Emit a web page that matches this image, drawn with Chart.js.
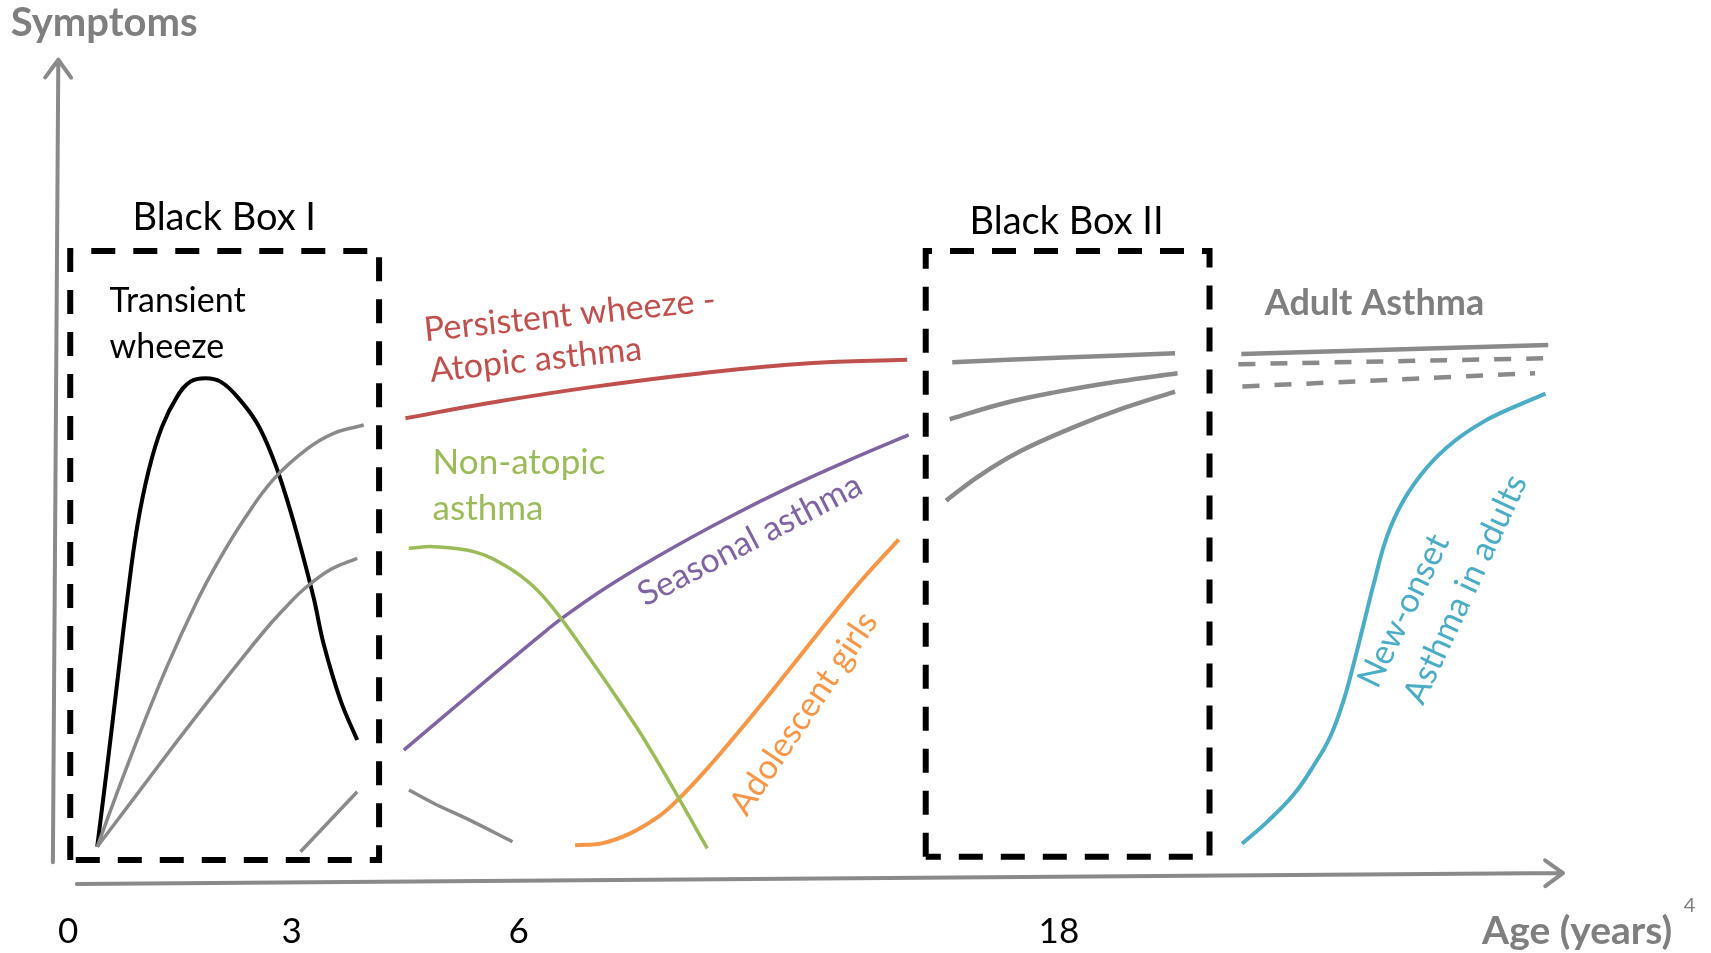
<!DOCTYPE html>
<html>
<head>
<meta charset="utf-8">
<title>Asthma phenotypes over age</title>
<script src="https://cdn.jsdelivr.net/npm/chart.js@4.4.1/dist/chart.umd.min.js"></script>
<style>
  html, body { margin: 0; padding: 0; background: #fff; }
  #wrap { width: 1711px; height: 953px; position: relative; }
</style>
</head>
<body>
<div id="wrap"><canvas id="chart"></canvas></div>
<script>
// Schematic units: x = position along the age axis (0-100), y = symptom level (0-100)

// age axis ticks
const tickPositions = [0.87, 15.7, 30.75, 66.57];
const tickLabels = ['0', '3', '6', '18'];

// Black Box I – transient wheeze and the curves arising at birth
const transientWheeze = [[2.8,4.53],[3.46,14.28],[4.12,24.44],[4.78,34.59],[5.45,43.52],[6.22,50.43],[7.1,55.71],[8.1,59.37],[8.98,61.19],[9.98,61.61],[10.97,61.19],[12.08,59.37],[13.4,56.12],[14.5,51.65],[15.39,46.78],[16.28,41.09],[17.16,34.8],[17.82,29.2],[18.93,22.4],[20.04,17.53]];
const earlyUpper = [[2.8,4.53],[4.12,11.13],[5.67,18.57],[7.44,26.54],[9.43,34.5],[10.75,39.05],[12.52,44.36],[14.5,49.31],[16.72,53.0],[18.48,54.9],[20.47,55.9]];
const earlyLower = [[2.8,4.53],[5.67,11.5],[8.98,19.5],[12.63,28.0],[14.29,31.7],[15.5,34.1],[16.5,35.9],[18.27,38.3],[20.04,39.67]];
const earlyLate = [[16.28,3.92],[20.04,11.23]];

// childhood phenotypes
const atopicAsthma = [[23.24,56.73],[28.68,58.56],[35.79,60.58],[42.89,62.22],[50.0,63.43],[56.51,63.84]];
const nonAtopicAsthma = [[23.46,40.89],[25.12,41.09],[27.77,40.48],[29.98,38.65],[31.75,36.21],[33.3,32.97],[35.06,28.5],[36.83,23.85],[38.6,19.0],[39.93,15.0],[41.26,10.8],[43.25,4.33]];
const seasonalAsthma = [[23.13,16.31],[25.56,20.08],[28.88,25.23],[32.19,30.29],[33.74,32.54],[36.61,36.18],[39.93,39.87],[44.35,44.34],[48.77,48.4],[53.19,52.05],[56.61,54.7]];
const remission = [[23.47,11.44],[25.14,9.81],[27.5,7.78],[30.34,5.15]];
const adolescentGirls = [[34.49,4.73],[36.26,4.95],[38.15,6.16],[40.06,8.26],[41.26,10.18],[43.25,14.06],[45.45,18.79],[47.66,23.76],[49.88,28.87],[51.64,32.92],[53.63,37.3],[55.95,41.94]];

// Black Box II
const transitionTop = [[59.5,63.56],[66.88,64.12],[74.27,64.65]];
const transitionMid = [[59.33,56.61],[62.93,58.56],[66.37,59.91],[70.49,61.2],[74.44,62.22]];
const transitionLow = [[59.09,46.7],[61.22,49.63],[63.97,52.67],[67.4,55.52],[70.84,57.95],[74.27,59.97]];

// adult asthma
const adultPersistent = [[78.67,64.57],[99.02,65.66]];
const adultDashedA = [[78.47,63.31],[99.08,64.04]];
const adultDashedB = [[78.74,60.59],[98.15,62.22]];
const newOnsetAdults = [[78.72,4.91],[80.38,7.57],[82.14,10.89],[83.47,14.43],[84.57,17.97],[85.46,22.41],[86.12,26.84],[86.79,31.72],[87.45,36.58],[88.33,42.34],[89.44,46.78],[90.99,50.77],[92.75,53.87],[94.74,56.32],[96.73,58.09],[98.84,59.72]];

// dashed "black boxes"
const blackBoxI = [[1.01,2.93],[1.01,77.1],[21.49,77.1],[21.49,2.93],[1.01,2.93]];
const blackBoxII = [[57.74,3.32],[57.74,77.1],[76.56,77.1],[76.56,3.32],[57.74,3.32]];

const GREY = '#8a8a8a';
const FONT = 'Lato, "Open Sans", sans-serif';

const pts = arr => arr.map(([x, y]) => ({ x, y }));

function curve(data, color, width, dash) {
  return {
    data: pts(data),
    showLine: true,
    borderColor: color,
    borderWidth: width,
    borderDash: dash || [],
    pointRadius: 0,
    tension: 0.4,
    fill: false
  };
}

function box(data) {
  return {
    data: pts(data),
    showLine: true,
    borderColor: '#000',
    borderWidth: 6,
    borderDash: [24, 18],
    borderCapStyle: 'butt',
    pointRadius: 0,
    tension: 0,
    fill: false
  };
}

// text annotations, anchored in chart units
const annotations = [
  { text: 'Symptoms', x: 3.26, y: 104.9, color: '#7f7f7f', size: 40, bold: true },
  { text: 'Age (years)', x: 100.94, y: -5.72, color: '#7f7f7f', size: 39, bold: true },
  { text: '4', x: 108.39, y: -2.66, color: '#7f7f7f', size: 20 },
  { text: 'Black Box I', x: 11.22, y: 81.12, color: '#000', size: 38 },
  { text: 'Black Box II', x: 67.08, y: 80.72, color: '#000', size: 38 },
  { text: 'Transient', x: 3.62, y: 71.01, color: '#000', size: 34, align: 'left' },
  { text: 'wheeze', x: 3.62, y: 65.43, color: '#000', size: 34, align: 'left' },
  { text: 'Persistent wheeze -', x: 34.13, y: 69.3, color: '#c0504d', size: 34, rotate: -6 },
  { text: 'Atopic asthma', x: 31.88, y: 63.84, color: '#c0504d', size: 34, rotate: -6 },
  { text: 'Non-atopic', x: 25.04, y: 51.33, color: '#9bbb59', size: 35, align: 'left' },
  { text: 'asthma', x: 25.04, y: 45.74, color: '#9bbb59', size: 35, align: 'left' },
  { text: 'Seasonal asthma', x: 46.09, y: 41.9, color: '#8064a2', size: 34, rotate: -27.5 },
  { text: 'Adolescent girls', x: 49.64, y: 20.78, color: '#f79646', size: 34, rotate: -56 },
  { text: 'Adult Asthma', x: 87.5, y: 70.74, color: '#7f7f7f', size: 36, bold: true },
  { text: 'New-onset', x: 89.44, y: 33.27, color: '#4bacc6', size: 34, rotate: -64 },
  { text: 'Asthma in adults', x: 93.53, y: 35.92, color: '#4bacc6', size: 34, rotate: -65 }
];

// axis arrows, in chart units: [from, to]
const xAxisLine = [[1.45, 0], [100, 1.33]];
const yAxisLine = [[-0.14, 2.66], [0.22, 100.4]];

const overlay = {
  id: 'overlay',
  afterDatasetsDraw(chart) {
    const { ctx, scales: { x, y } } = chart;

    function arrow(line) {
      const x0 = x.getPixelForValue(line[0][0]), y0 = y.getPixelForValue(line[0][1]);
      const x1 = x.getPixelForValue(line[1][0]), y1 = y.getPixelForValue(line[1][1]);
      const a = Math.atan2(y1 - y0, x1 - x0);
      ctx.save();
      ctx.strokeStyle = GREY;
      ctx.lineWidth = 4;
      ctx.lineCap = 'round';
      ctx.lineJoin = 'round';
      ctx.beginPath();
      ctx.moveTo(x0, y0);
      ctx.lineTo(x1, y1);
      ctx.moveTo(x1 + 22 * Math.cos(a + Math.PI * 0.8), y1 + 22 * Math.sin(a + Math.PI * 0.8));
      ctx.lineTo(x1, y1);
      ctx.lineTo(x1 + 22 * Math.cos(a - Math.PI * 0.8), y1 + 22 * Math.sin(a - Math.PI * 0.8));
      ctx.stroke();
      ctx.restore();
    }
    arrow(xAxisLine);
    arrow(yAxisLine);

    annotations.forEach(a => {
      ctx.save();
      ctx.translate(x.getPixelForValue(a.x), y.getPixelForValue(a.y));
      if (a.rotate) ctx.rotate(a.rotate * Math.PI / 180);
      ctx.font = (a.bold ? 'bold ' : '') + a.size + 'px ' + FONT;
      ctx.fillStyle = a.color;
      ctx.textAlign = a.align || 'center';
      ctx.textBaseline = 'middle';
      ctx.fillText(a.text, 0, 0);
      ctx.restore();
    });
  }
};

new Chart(document.getElementById('chart').getContext('2d'), {
  type: 'scatter',
  data: {
    datasets: [
      box(blackBoxI),
      box(blackBoxII),
      curve(earlyUpper, GREY, 3.5),
      curve(earlyLower, GREY, 3.5),
      curve(earlyLate, GREY, 3.5),
      curve(transientWheeze, '#000', 4),
      curve(atopicAsthma, '#c0504d', 4),
      curve(nonAtopicAsthma, '#9bbb59', 3.5),
      curve(seasonalAsthma, '#8064a2', 3.5),
      curve(remission, GREY, 3.5),
      curve(adolescentGirls, '#f79646', 4),
      curve(transitionTop, GREY, 4.5),
      curve(transitionMid, GREY, 4.5),
      curve(transitionLow, GREY, 4.5),
      curve(adultPersistent, GREY, 4.5),
      curve(adultDashedA, GREY, 4.5, [17, 15]),
      curve(adultDashedB, GREY, 4.5, [17, 15]),
      curve(newOnsetAdults, '#4bacc6', 4)
    ]
  },
  options: {
    responsive: true,
    maintainAspectRatio: false,
    animation: false,
    events: [],
    layout: { padding: { left: 55, right: 148, top: 63, bottom: 2 } },
    plugins: { legend: { display: false }, tooltip: { enabled: false } },
    scales: {
      x: {
        type: 'linear',
        min: 0,
        max: 100,
        grid: { display: false, drawTicks: false },
        border: { display: false },
        afterBuildTicks: axis => { axis.ticks = tickPositions.map(v => ({ value: v })); },
        afterFit: axis => { axis.height = 67; },
        ticks: {
          autoSkip: false,
          maxRotation: 0,
          minRotation: 0,
          padding: 27,
          color: '#000',
          font: { family: FONT, size: 35 },
          callback: (value, index) => tickLabels[index]
        }
      },
      y: {
        type: 'linear',
        min: 0,
        max: 100,
        display: false
      }
    }
  },
  plugins: [overlay]
});
</script>
</body>
</html>
